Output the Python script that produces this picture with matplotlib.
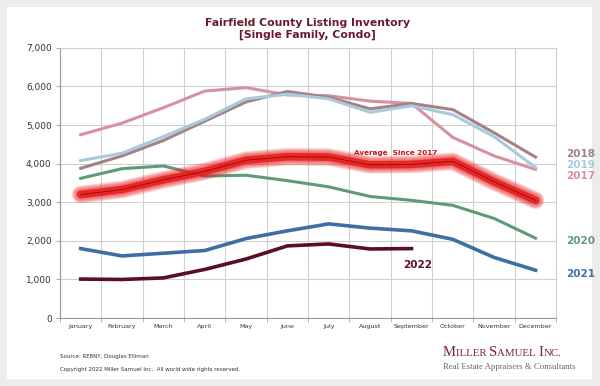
import numpy as np
import matplotlib.pyplot as plt
from matplotlib.patches import Rectangle

months = ['January', 'February', 'March', 'April', 'May', 'June', 'July',
          'August', 'September', 'October', 'November', 'December']
y2017 = [4750, 5050, 5450, 5880, 5970, 5780, 5760, 5620, 5560, 4680, 4200, 3850]
y2018 = [3880, 4200, 4600, 5100, 5600, 5870, 5720, 5420, 5560, 5400, 4800, 4170]
y2019 = [4080, 4270, 4700, 5150, 5680, 5800, 5680, 5330, 5500, 5270, 4700, 3900]
y2020 = [3620, 3870, 3940, 3680, 3700, 3560, 3400, 3150, 3050, 2920, 2580, 2070]
y2021 = [1800, 1610, 1680, 1750, 2060, 2260, 2440, 2330, 2260, 2040, 1570, 1240]
y2022 = [1010, 1000, 1040, 1260, 1530, 1870, 1920, 1790, 1800]
avg = [3200, 3330, 3580, 3800, 4090, 4180, 4170, 3970, 3980, 4060, 3530, 3050]

c2017 = '#d8919f'
c2018 = '#a38283'
c2019 = '#a9c9de'
c2020 = '#5f9a78'
c2021 = '#3f6ea6'
c2022 = '#5a0f1f'
maroon = '#6b1a2b'

fig = plt.figure(figsize=(6, 3.86), dpi=100)
fig.patch.set_facecolor('#ececec')
fig.patches.append(Rectangle((0.012, 0.018), 0.975, 0.965, transform=fig.transFigure,
                             facecolor='white', edgecolor='none', zorder=-5))

ax = fig.add_axes([0.1, 0.176, 0.827, 0.7])
ax.set_facecolor('none')
x = np.arange(12)

ax.plot(x, y2017, color=c2017, lw=2.2, solid_joinstyle='round', zorder=3)
ax.plot(x, y2018, color=c2018, lw=2.2, solid_joinstyle='round', zorder=3)
ax.plot(x, y2019, color=c2019, lw=2.2, solid_joinstyle='round', zorder=4)
ax.plot(x, y2020, color=c2020, lw=2.2, solid_joinstyle='round', zorder=3)
ax.plot(x, y2021, color=c2021, lw=2.6, solid_joinstyle='round', zorder=3)
ax.plot(np.arange(len(y2022)), y2022, color=c2022, lw=2.6, solid_joinstyle='round', zorder=3)

# glow around the average line: soft outer halo, solid red core, thin dark centre
for w in np.linspace(13, 7, 7):
    ax.plot(x, avg, color='#e81818', lw=w, alpha=0.12, solid_capstyle='round',
            solid_joinstyle='round', zorder=5)
ax.plot(x, avg, color='#e41c1c', lw=5.5, alpha=0.85, solid_capstyle='round',
        solid_joinstyle='round', zorder=5)
ax.plot(x, avg, color='#a80000', lw=0.6, solid_joinstyle='round', zorder=6)

ax.set_xlim(-0.5, 11.5)
ax.set_ylim(0, 7000)
ax.set_yticks(range(0, 7001, 1000))
ax.set_yticklabels([f'{v:,}' for v in range(0, 7001, 1000)], fontsize=6.5, color='#333333')
ax.set_xticks(x)
ax.set_xticklabels(months, fontsize=4.6, color='#333333')
ax.set_xticks(np.arange(-0.5, 12, 1), minor=True)
ax.tick_params(axis='x', which='major', length=0, pad=4)
ax.tick_params(axis='x', which='minor', length=3, color='#aaaaaa')
ax.tick_params(axis='y', length=3, color='#aaaaaa', pad=3)
ax.grid(axis='y', color='#d0d0d0', lw=0.8)
ax.grid(axis='x', which='minor', color='#d0d0d0', lw=0.8)
for s in ax.spines.values():
    s.set_color('#d0d0d0')
    s.set_linewidth(0.8)
ax.spines['left'].set_color('#999999')
ax.spines['bottom'].set_color('#999999')

# series labels
lab = dict(fontsize=7.5, fontweight='bold', ha='left', va='center', clip_on=False)
ax.text(11.75, 4260, '2018', color=c2018, **lab)
ax.text(11.75, 3970, '2019', color=c2019, **lab)
ax.text(11.75, 3690, '2017', color=c2017, **lab)
ax.text(11.75, 2000, '2020', color=c2020, **lab)
ax.text(11.75, 1150, '2021', color=c2021, **lab)
ax.text(7.8, 1380, '2022', color=c2022, fontsize=7.5, fontweight='bold', ha='left', va='center')
ax.text(6.6, 4270, 'Average  Since 2017', color='#d01010', fontsize=5.2, fontweight='bold',
        ha='left', va='center', zorder=7)

fig.text(0.513, 0.925, 'Fairfield County Listing Inventory\n[Single Family, Condo]',
         ha='center', va='center', fontsize=7.8, fontweight='bold', color=maroon,
         linespacing=1.3)

fig.text(0.1, 0.072, 'Source: REBNY, Douglas Elliman', fontsize=4, color='#333333')
fig.text(0.1, 0.038, 'Copyright 2022 Miller Samuel Inc.  All world wide rights reserved.',
         fontsize=4, color='#333333')

# logo in small caps, built piece by piece
fig.canvas.draw()
renderer = fig.canvas.get_renderer()
pieces = [('M', 10.5), ('ILLER ', 7.8), ('S', 10.5), ('AMUEL ', 7.8), ('I', 10.5), ('NC.', 7.8)]
xpos = 0.738 * 600
for txt, size in pieces:
    t = fig.text(xpos / 600, 0.078, txt, fontsize=size, family='Liberation Serif',
                 color='#7a2233', ha='left', va='baseline')
    xpos += t.get_window_extent(renderer).width
fig.text(0.738, 0.043, 'Real Estate Appraisers & Consultants', fontsize=6.3,
         family='Liberation Serif', color='#666666', ha='left', va='baseline')

fig.savefig('out.png', dpi=100)
